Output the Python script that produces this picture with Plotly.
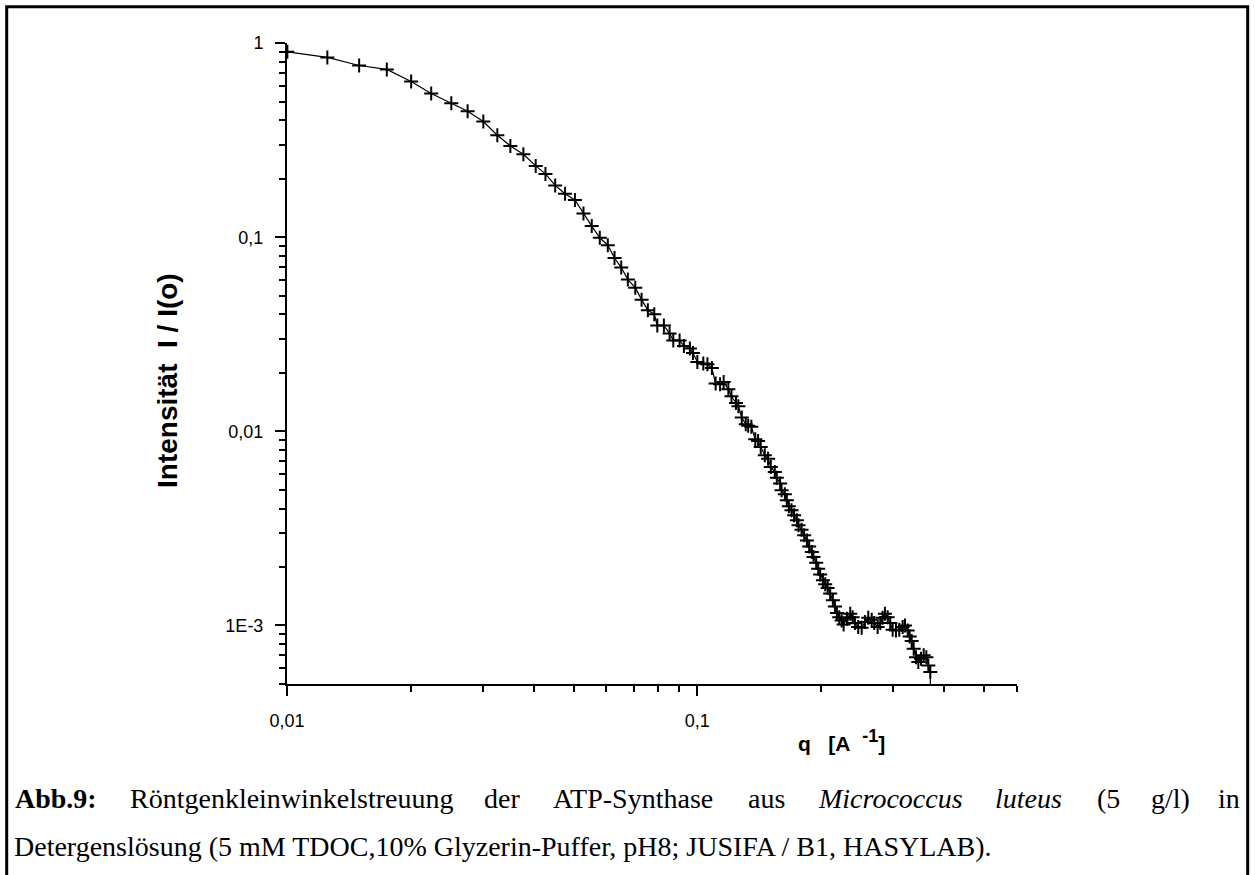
import plotly.graph_objects as go
import math

# ---- data ----
q_values = [0.01002, 0.01254, 0.01499, 0.01751, 0.02007, 0.02246, 0.02514, 0.02755, 0.03009, 0.03255,
            0.03502, 0.03767, 0.04037, 0.04264, 0.04504, 0.04759, 0.05031, 0.05278, 0.05529, 0.05784,
            0.06050, 0.06283, 0.06524, 0.06771, 0.07058, 0.07313, 0.07575, 0.07852, 0.07987, 0.08288,
            0.08558, 0.08737, 0.09052, 0.09274, 0.09590, 0.09756, 0.1000, 0.1034, 0.1058, 0.1085,
            0.1108, 0.1136, 0.1159, 0.1190, 0.1211, 0.1242, 0.1259, 0.1283, 0.1312, 0.1330,
            0.1354, 0.1384, 0.1406, 0.1427, 0.1460, 0.1487, 0.1510, 0.1544, 0.1562, 0.1591,
            0.1604, 0.1634, 0.1652, 0.1671, 0.1696, 0.1721, 0.1748, 0.1764, 0.1794, 0.1821,
            0.1849, 0.1873, 0.1901, 0.1919, 0.1948, 0.1970, 0.1992, 0.2023, 0.2049, 0.2077,
            0.2107, 0.2139, 0.2164, 0.2188, 0.2217, 0.2247, 0.2272, 0.2315, 0.2358, 0.2390,
            0.2421, 0.2466, 0.2514, 0.2561, 0.2609, 0.2660, 0.2698, 0.2750, 0.2791, 0.2828,
            0.2865, 0.2909, 0.2952, 0.2992, 0.3048, 0.3105, 0.3165, 0.3206, 0.3255, 0.3292,
            0.3329, 0.3367, 0.3410, 0.3455, 0.3508, 0.3561, 0.3614, 0.3655, 0.3696, 0.3697]

intensity = [0.902, 0.844, 0.767, 0.732, 0.635, 0.550, 0.490, 0.446, 0.395, 0.3355,
             0.2955, 0.2678, 0.2331, 0.2120, 0.1849, 0.1676, 0.1555, 0.1325, 0.1142, 0.0994,
             0.0910, 0.0782, 0.0698, 0.0605, 0.0550, 0.0477, 0.0420, 0.0401, 0.0351, 0.0351,
             0.0319, 0.0294, 0.0294, 0.0275, 0.0267, 0.0253, 0.02276, 0.02234, 0.02215, 0.02120,
             0.01761, 0.01747, 0.01795, 0.01646, 0.01515, 0.01399, 0.01346, 0.01177, 0.01087, 0.01067,
             0.01055, 0.00910, 0.00891, 0.00830, 0.00752, 0.00723, 0.00655, 0.00617, 0.00577, 0.00538,
             0.00497, 0.00474, 0.00441, 0.00411, 0.00392, 0.00369, 0.00348, 0.00328, 0.00311, 0.00291,
             0.00274, 0.00255, 0.00239, 0.00225, 0.00210, 0.00196, 0.00183, 0.00171, 0.00163, 0.00156,
             0.00146, 0.001346, 0.001253, 0.001157, 0.001103, 0.001061, 0.001012, 0.001083, 0.001149, 0.001103,
             0.001028, 0.000980, 0.000973, 0.001040, 0.001096, 0.001070, 0.001028, 0.000980, 0.001028, 0.001096,
             0.001149, 0.001103, 0.001028, 0.000950, 0.000942, 0.000950, 0.000980, 0.001000, 0.000942, 0.000877,
             0.000830, 0.000758, 0.000686, 0.000647, 0.000674, 0.000701, 0.000686, 0.000622, 0.000575, 0.00040]

x_tick_vals = [0.01, 0.1]
x_tick_text = ["0,01", "0,1"]
y_tick_vals = [1, 0.1, 0.01, 0.001]
y_tick_text = ["1", "0,1", "0,01", "1E-3"]
x_minor_vals = [k * 10.0 ** d for d in (-2, -1) for k in range(2, 10) if k * 10.0 ** d <= 0.6001]
y_minor_vals = [k * 10.0 ** d for d in (-4, -3, -2, -1) for k in range(2, 10) if k * 10.0 ** d >= 0.000499]

# ---- layout geometry (pixels) ----
W_FIG, H_FIG = 1255, 875
L, R, T, B = 287, 1017, 43, 684
PW, PH = R - L, B - T


def px(xp):
    return (xp - L) / PW


def py(yp):
    return (B - yp) / PH


SANS = "Liberation Sans, Arial, sans-serif"
SERIF = "Liberation Serif, Times New Roman, serif"

fig = go.Figure()
fig.add_trace(go.Scatter(
    x=q_values, y=intensity, mode="lines+markers",
    line=dict(color="black", width=1.2),
    marker=dict(symbol="cross-thin", size=10, color="black",
                line=dict(color="black", width=2)),
    showlegend=False, hoverinfo="x+y",
))

axis_common = dict(
    type="log", showline=True, linecolor="black", linewidth=2,
    ticks="outside", ticklen=10, tickwidth=2, tickcolor="black",
    showgrid=False, zeroline=False, tickmode="array",
    tickfont=dict(family=SANS, size=18, color="black"),
)

fig.update_xaxes(
    **axis_common,
    range=[-2, math.log10(0.6) + 0.0008],
    tickvals=x_tick_vals, ticktext=x_tick_text,
    ticklabelstandoff=9,
    minor=dict(tickmode="array", tickvals=x_minor_vals, ticks="outside",
               ticklen=6, tickwidth=2, tickcolor="black", showgrid=False),
)
fig.update_yaxes(
    **axis_common,
    range=[math.log10(0.000499), 0.0008],
    tickvals=y_tick_vals, ticktext=y_tick_text,
    ticklabelstandoff=8,
    minor=dict(tickmode="array", tickvals=y_minor_vals, ticks="outside",
               ticklen=6, tickwidth=2, tickcolor="black", showgrid=False),
)

annotations = [
    dict(text="<b>Intensität\u00a0\u00a0I / I(o)</b>", x=px(167), y=py(381),
         xref="paper", yref="paper", textangle=-90, showarrow=False,
         xanchor="center", yanchor="middle",
         font=dict(family=SANS, size=28, color="black")),
    dict(text="<b>q\u00a0\u00a0\u00a0[A\u00a0\u00a0<sup><span style='font-size:18px'>-1</span></sup>]</b>",
         x=px(796), y=py(740),
         xref="paper", yref="paper", showarrow=False,
         xanchor="left", yanchor="middle",
         font=dict(family=SANS, size=21, color="black")),
]

# justified first caption line: one text per word
caption_words = [
    ("<b>Abb.9:</b>", 13),
    ("Röntgenkleinwinkelstreuung", 128),
    ("der", 482),
    ("ATP-Synthase", 551),
    ("aus", 746),
    ("<i>Micrococcus</i>", 816),
    ("<i>luteus</i>", 993),
    ("(5", 1095),
    ("g/l)", 1149),
    ("in", 1216),
]
for word, xpos in caption_words:
    annotations.append(dict(
        text=word, x=px(xpos), y=py(798), xref="paper", yref="paper",
        showarrow=False, xanchor="left", yanchor="middle",
        font=dict(family=SERIF, size=28, color="black")))

annotations.append(dict(
    text="Detergenslösung (5 mM TDOC,10% Glyzerin-Puffer, pH8; JUSIFA / B1, HASYLAB).",
    x=px(12), y=py(846), xref="paper", yref="paper",
    showarrow=False, xanchor="left", yanchor="middle",
    font=dict(family=SERIF, size=28, color="black")))

fig.update_layout(
    width=W_FIG, height=H_FIG,
    margin=dict(l=L, r=W_FIG - R, t=T, b=H_FIG - B, autoexpand=False),
    paper_bgcolor="white", plot_bgcolor="white",
    annotations=annotations,
    shapes=[dict(type="rect", xref="paper", yref="paper",
                 x0=px(6.7), x1=px(1247.7), y0=py(900), y1=py(6.7),
                 line=dict(color="black", width=3), fillcolor="rgba(0,0,0,0)",
                 layer="above")],
)

fig.write_html("out.html", config={"displayModeBar": False})
